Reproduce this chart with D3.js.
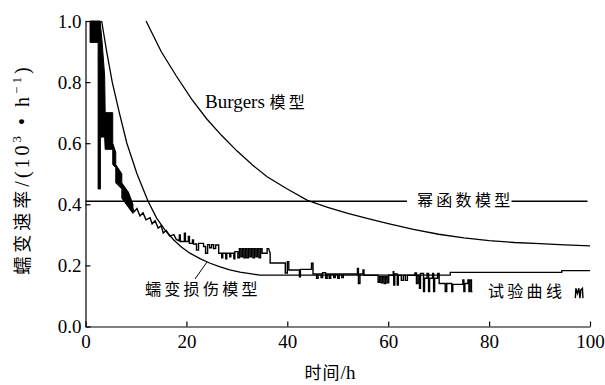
<!DOCTYPE html>
<html>
<head>
<meta charset="utf-8">
<script src="https://cdn.jsdelivr.net/npm/d3@7.9.0/dist/d3.min.js"></script>
<style>
  body { margin: 0; background: #fff; }
  svg { display: block; }
  .axis text { font-family: "Liberation Serif", "Times New Roman", serif; font-size: 19px; fill: #000; }
  .axis path, .axis line { stroke: #000; stroke-width: 1.2; }
  .cn { font-family: "Noto Sans CJK SC", sans-serif; font-size: 16px; letter-spacing: 3.3px; fill: #000; }
  .lat { font-family: "Liberation Serif", "Times New Roman", serif; font-size: 19px; fill: #000; }
</style>
</head>
<body>
<svg id="chart" width="605" height="385"></svg>
<script>
// ticks
const xTicks = [0, 20, 40, 60, 80, 100];
const yTicks = [0, 0.2, 0.4, 0.6, 0.8, 1.0];

// Burgers model
const burgersT = [12, 15, 18, 21, 24, 27, 30, 33, 36, 40, 44, 48, 52, 56, 60, 65, 70, 75, 80, 85, 90, 95, 100];
const burgersV = [1.0, 0.90, 0.82, 0.745, 0.68, 0.625, 0.575, 0.53, 0.49, 0.45, 0.413, 0.39, 0.37, 0.353, 0.337, 0.318, 0.302, 0.29, 0.281, 0.275, 0.271, 0.267, 0.264];

// power function model (constant rate)
const powerT = [0, 99.5];
const powerV = [0.41, 0.41];

// creep damage model
const damageT = [3.2, 4.2, 5.3, 6.7, 8.2, 10.2, 12.4, 14.1, 15.8, 17.5, 19.0, 20.7, 22.7, 24.7, 26.7, 28.6, 30.6, 32.6, 34.6, 72.3, 72.3, 94.4, 94.4, 100];
const damageV = [1.0, 0.9, 0.8, 0.7, 0.6, 0.5, 0.41, 0.355, 0.315, 0.283, 0.26, 0.24, 0.222, 0.207, 0.195, 0.185, 0.178, 0.173, 0.168, 0.168, 0.177, 0.177, 0.183, 0.183];

// test curve: dense early part as [t, low, high]
const expBand = [
  [0.9, 0.93, 1.0], [2.5, 0.93, 1.0], [2.5, 0.45, 1.0], [2.95, 0.45, 1.0],
  [2.95, 0.62, 0.99], [3.3, 0.62, 0.93], [3.8, 0.62, 0.82], [3.9, 0.58, 0.70],
  [5.4, 0.58, 0.70], [5.4, 0.53, 0.60], [6.0, 0.52, 0.57], [6.0, 0.47, 0.53],
  [7.2, 0.45, 0.50], [7.2, 0.42, 0.47], [8.5, 0.39, 0.44], [9.4, 0.37, 0.40]
];

// test curve: [t, rate]
const expLine = [
  [9.3,0.39],[9.6,0.375],[10.2,0.386],[10.8,0.362],[11.4,0.372],[12.0,0.349],[12.8,0.356],[13.2,0.336],
  [13.8,0.346],[14.4,0.322],[15.0,0.33],[15.4,0.306],[16.0,0.314],[16.7,0.296],[17.5,0.301],[18.0,0.285],
  [18.6,0.28],[18.6,0.30],[18.8,0.30],[18.8,0.278],[19.6,0.278],[19.6,0.305],[19.8,0.305],[19.8,0.278],
  [20.4,0.278],[20.4,0.295],[20.6,0.295],[20.6,0.272],[21.2,0.272],[21.2,0.283],[21.4,0.283],[21.4,0.27],
  [22.0,0.27],[22.0,0.25],[22.4,0.25],[22.4,0.272],[23.4,0.272],[23.4,0.262],[23.8,0.262],[23.8,0.24],
  [24.2,0.24],[24.2,0.268],[24.6,0.268],[24.6,0.258],[25.0,0.258],[25.0,0.268],[25.4,0.268],[25.4,0.255],
  [25.8,0.255],[25.8,0.267],[26.4,0.267],[26.4,0.24],
  [27.0,0.24],[27.0,0.225],[27.2,0.225],[27.2,0.24],[27.8,0.24],[27.8,0.222],[28.0,0.222],[28.0,0.24],
  [28.6,0.24],[28.6,0.228],[28.8,0.228],[28.8,0.24],[29.4,0.24],[29.4,0.222],[29.6,0.222],[29.6,0.245],
  [30.2,0.245],[30.2,0.225],[30.5,0.225],[30.5,0.255],[30.8,0.255],[30.8,0.228],[31.1,0.228],[31.1,0.255],
  [31.4,0.255],[31.4,0.225],[31.7,0.225],[31.7,0.255],[32.0,0.255],[32.0,0.225],[32.3,0.225],[32.3,0.255],
  [32.6,0.255],[32.6,0.228],[32.9,0.228],[32.9,0.255],[33.2,0.255],[33.2,0.225],[33.5,0.225],[33.5,0.255],
  [33.8,0.255],[33.8,0.228],[34.1,0.228],[34.1,0.255],[34.4,0.255],[34.4,0.225],[34.7,0.225],[34.7,0.255],
  [35.0,0.255],[35.0,0.24],[36.0,0.24],[36.0,0.255],[36.3,0.255],[36.6,0.24],[36.6,0.208],
  [39.6,0.208],[39.6,0.175],[40.0,0.175],[40.0,0.212],[40.3,0.212],[40.3,0.185],
  [42.4,0.185],[42.4,0.163],[42.6,0.163],[42.6,0.187],[44.8,0.187],[44.8,0.207],[45.1,0.207],[45.1,0.172],
  [45.8,0.172],[45.8,0.158],[46.1,0.158],[46.1,0.172],[46.7,0.172],[46.7,0.16],[47.0,0.16],[47.0,0.176],
  [47.6,0.176],[47.6,0.158],[47.9,0.158],[47.9,0.172],[48.3,0.172],[48.3,0.158],[48.6,0.158],[48.6,0.172],
  [49.2,0.172],[49.2,0.16],[49.5,0.16],[49.5,0.172],[50.0,0.172],[50.0,0.158],[50.3,0.158],[50.3,0.172],
  [50.8,0.172],[50.8,0.16],[51.1,0.16],[51.1,0.172],
  [53.9,0.172],[53.9,0.19],[54.1,0.19],[54.1,0.141],[54.4,0.141],[54.4,0.172],[55.0,0.172],[55.0,0.185],
  [55.2,0.185],[55.2,0.168],[58.0,0.168],
  [58.0,0.145],[58.3,0.145],[58.3,0.163],[58.6,0.163],[58.6,0.143],[58.9,0.143],[58.9,0.163],[59.2,0.163],
  [59.2,0.141],[59.5,0.141],[59.5,0.163],[59.8,0.163],[59.8,0.143],[60.1,0.143],[60.1,0.168],
  [61.0,0.168],[61.0,0.179],[61.1,0.179],[61.1,0.136],[61.3,0.136],[61.3,0.172],[61.8,0.172],[61.8,0.136],
  [62.0,0.136],[62.0,0.168],[62.6,0.168],[62.6,0.151],[63.0,0.151],[63.0,0.168],[63.4,0.168],[63.4,0.151],
  [63.8,0.151],[63.8,0.168],[65.3,0.168],[65.3,0.175],
  [65.6,0.175],[65.6,0.141],[65.9,0.141],[65.9,0.168],[66.2,0.168],[66.2,0.125],[66.4,0.125],[66.4,0.174],
  [67.0,0.174],[67.0,0.114],[67.2,0.114],[67.2,0.158],[67.7,0.158],[67.7,0.174],[68.0,0.174],[68.0,0.114],
  [68.2,0.114],[68.2,0.158],[68.8,0.158],[68.8,0.174],[69.0,0.174],[69.0,0.114],[69.2,0.114],[69.2,0.158],
  [69.8,0.158],[69.8,0.174],[70.1,0.174],[70.1,0.141],
  [71.3,0.141],[71.3,0.114],[71.6,0.114],[71.6,0.141],[72.6,0.141],[72.6,0.114],[72.8,0.114],[72.8,0.138],
  [74.8,0.138],[74.8,0.152],[75.0,0.152],[75.0,0.114],[75.2,0.114],[75.2,0.141],[75.8,0.141],[75.8,0.152],
  [76.0,0.152],[76.0,0.114],[76.2,0.114],[76.2,0.152],[76.5,0.152],[76.5,0.114],[76.7,0.114]
];

// test curve: last short record near 97-99 h
const expTail = [
  [97.1,0.093],[97.2,0.125],[97.5,0.108],[97.8,0.125],[98.0,0.093],[98.2,0.12],[98.5,0.125],[98.6,0.093]
];

const plot = { left: 85.5, right: 590, top: 21, bottom: 326.5 };

const svg = d3.select('#chart');

const x = d3.scaleLinear().domain([0, 100]).range([plot.left, plot.right]);
const y = d3.scaleLinear().domain([0, 1]).range([plot.bottom, plot.top]);

// axes (ticks point inward)
svg.append('g')
  .attr('class', 'axis')
  .attr('transform', `translate(0,${plot.bottom})`)
  .call(d3.axisBottom(x).tickValues(xTicks).tickSizeInner(-5).tickSizeOuter(0).tickPadding(8).tickFormat(d3.format('d')));

svg.append('g')
  .attr('class', 'axis')
  .attr('transform', `translate(${plot.left},0)`)
  .call(d3.axisLeft(y).tickValues(yTicks).tickSizeInner(-5).tickSizeOuter(0).tickPadding(4).tickFormat(d3.format('.1f')));

const line = d3.line().x(d => x(d[0])).y(d => y(d[1]));
const zip = (ts, vs) => ts.map((t, i) => [t, vs[i]]);

// power function model
svg.append('path')
  .attr('d', line(zip(powerT, powerV)))
  .attr('fill', 'none').attr('stroke', '#000').attr('stroke-width', 1.3);

// Burgers model
svg.append('path')
  .attr('d', line(zip(burgersT, burgersV)))
  .attr('fill', 'none').attr('stroke', '#000').attr('stroke-width', 1.3);

// creep damage model
svg.append('path')
  .attr('d', line(zip(damageT, damageV)))
  .attr('fill', 'none').attr('stroke', '#000').attr('stroke-width', 1.3);

// test curve
const band = d3.area().x(d => x(d[0])).y0(d => y(d[1])).y1(d => y(d[2]));
svg.append('path')
  .attr('d', band(expBand))
  .attr('fill', '#000').attr('stroke', '#000').attr('stroke-width', 1);

svg.append('path')
  .attr('d', line(expLine))
  .attr('fill', 'none').attr('stroke', '#000').attr('stroke-width', 1.4);

svg.append('path')
  .attr('d', line(expTail))
  .attr('fill', 'none').attr('stroke', '#000').attr('stroke-width', 1.4);

// labels
const burg = svg.append('text').attr('x', 205).attr('y', 108);
burg.append('tspan').attr('class', 'lat').text('Burgers ');
burg.append('tspan').attr('class', 'cn').text('模型');

const pw = svg.append('g');
const pwText = pw.append('text').attr('class', 'cn').attr('x', 417).attr('y', 206).text('幂函数模型');
const bb = pwText.node().getBBox();
pw.insert('rect', 'text')
  .attr('x', bb.x - 10).attr('y', bb.y).attr('width', bb.width + 8).attr('height', bb.height)
  .attr('fill', '#fff');

svg.append('text').attr('class', 'cn').attr('x', 145).attr('y', 295).text('蠕变损伤模型');
svg.append('line')
  .attr('x1', 195).attr('y1', 279).attr('x2', 207).attr('y2', 262)
  .attr('stroke', '#000').attr('stroke-width', 1);

svg.append('text').attr('class', 'cn').attr('x', 488).attr('y', 297).text('试验曲线');

// axis titles
const xt = svg.append('text').attr('x', 330).attr('y', 379).attr('text-anchor', 'middle');
xt.append('tspan').attr('class', 'cn').style('font-size', '17px').style('letter-spacing', '1px').text('时间');
xt.append('tspan').attr('class', 'lat').text('/h');

const yt = svg.append('text')
  .attr('transform', 'translate(29,171) rotate(-90)')
  .attr('text-anchor', 'middle');
yt.append('tspan').attr('class', 'cn').style('font-size', '18px').style('letter-spacing', '4px').text('蠕变速率');
yt.append('tspan').attr('class', 'lat').style('font-size', '20px').style('letter-spacing', '3px').text('/(10');
yt.append('tspan').attr('class', 'lat').style('font-size', '13px').style('letter-spacing', '3px').attr('dy', -8).text('3');
yt.append('tspan').attr('class', 'lat').style('font-size', '20px').style('letter-spacing', '3px').attr('dy', 8).text(' • h');
yt.append('tspan').attr('class', 'lat').style('font-size', '13px').style('letter-spacing', '3px').attr('dy', -8).text('−1');
yt.append('tspan').attr('class', 'lat').style('font-size', '20px').attr('dy', 8).text(')');
</script>
</body>
</html>
